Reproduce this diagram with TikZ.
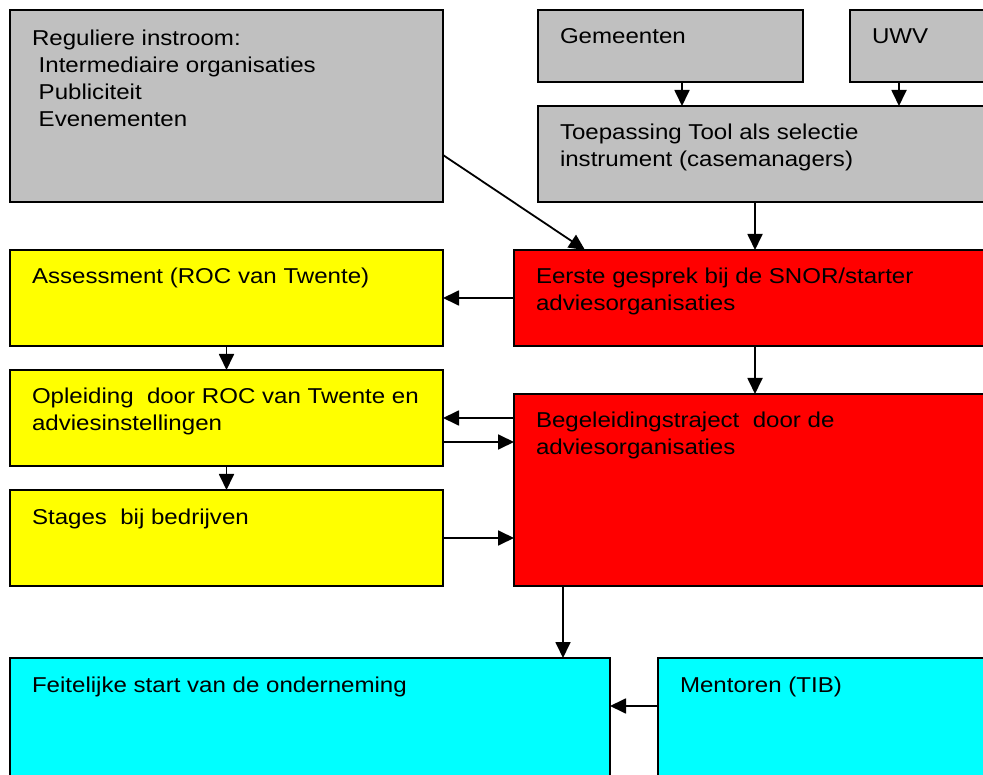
\documentclass[tikz,border=0pt]{standalone}
\usepackage{fontspec}
\setmainfont{Liberation Sans}[FakeStretch=1.12]
\usetikzlibrary{arrows.meta}
\definecolor{gbox}{HTML}{C0C0C0}
\definecolor{ybox}{HTML}{FFFF00}
\definecolor{rbox}{HTML}{FF0000}
\definecolor{cbox}{HTML}{00FFFF}
\newcommand{\fl}{\rule{0pt}{18pt}}
\begin{document}
\begin{tikzpicture}[x=1pt,y=-1pt,
  box/.style={draw=black,line width=1.8pt,rectangle,anchor=north west,inner sep=0pt,outer sep=0pt},
  txt/.style={anchor=north west,inner sep=0pt,outer sep=0pt,align=left,font=\fontsize{21.5}{27}\selectfont},
  arr/.style={line width=1.8pt,-{Triangle[length=16pt,width=15pt]}}]
\path[use as bounding box,fill=white] (0,0) rectangle (983,775);
\clip (0,0) rectangle (983,775);
% boxes
\node[box,fill=gbox,minimum width=433pt,minimum height=192pt] (reg) at (10,10) {};
\node[box,fill=gbox,minimum width=265pt,minimum height=72pt] (gem) at (538,10) {};
\node[box,fill=gbox,minimum width=160pt,minimum height=72pt] (uwv) at (850,10) {};
\node[box,fill=gbox,minimum width=470pt,minimum height=96pt] (tp) at (538,106) {};
\node[box,fill=ybox,minimum width=433pt,minimum height=96pt] (ass) at (10,250) {};
\node[box,fill=rbox,minimum width=490pt,minimum height=96pt] (eer) at (514,250) {};
\node[box,fill=ybox,minimum width=433pt,minimum height=96pt] (opl) at (10,370) {};
\node[box,fill=rbox,minimum width=490pt,minimum height=192pt] (beg) at (514,394) {};
\node[box,fill=ybox,minimum width=433pt,minimum height=96pt] (stg) at (10,490) {};
\node[box,fill=cbox,minimum width=600pt,minimum height=150pt] (fei) at (10,658) {};
\node[box,fill=cbox,minimum width=350pt,minimum height=150pt] (men) at (658,658) {};
% texts
\node[txt] (treg) at (32,28) {\fl Reguliere instroom:\\\ Intermediaire organisaties\\\ Publiciteit\\\ Evenementen};
\node[txt] (tgem) at (560,26) {\fl Gemeenten};
\node[txt] (tuwv) at (872,26) {\fl UWV};
\node[txt] (ttp) at (560,122) {\fl Toepassing Tool als selectie\\instrument (casemanagers)};
\node[txt] (tass) at (32,266) {\fl Assessment (ROC van Twente)};
\node[txt] (teer) at (536,266) {\fl Eerste gesprek bij de SNOR/starter\\adviesorganisaties};
\node[txt] (topl) at (32,386) {\fl Opleiding\ \ door ROC van Twente en\\adviesinstellingen};
\node[txt] (tbeg) at (536,410) {\fl Begeleidingstraject\ \ door de\\adviesorganisaties};
\node[txt] (tstg) at (32,506) {\fl Stages\ \ bij bedrijven};
\node[txt] (tfei) at (32,674) {\fl Feitelijke start van de onderneming};
\node[txt] (tmen) at (680,674) {\fl Mentoren (TIB)};
% connectors
\draw[arr] ([xshift=144pt]gem.south west) -- ([xshift=144pt]gem.south west |- tp.north);
\draw[arr] ([xshift=49pt]uwv.south west) -- ([xshift=49pt]uwv.south west |- tp.north);
\draw[arr] ([yshift=-49pt]reg.east) -- ([xshift=71pt]eer.north west);
\draw[arr] ([xshift=217pt]tp.south west) -- ([xshift=217pt]tp.south west |- eer.north);
\draw[arr] (eer.west) -- (eer.west -| ass.east);
\draw[arr] (ass.south) -- (opl.north);
\draw[arr] ([xshift=241pt]eer.south west) -- ([xshift=241pt]eer.south west |- beg.north);
\draw[arr] ([yshift=-24pt]beg.north west) -- ([yshift=-24pt]beg.north west -| opl.east);
\draw[arr] ([yshift=-24pt]opl.east) -- ([yshift=-24pt]opl.east -| beg.west);
\draw[arr] (opl.south) -- (stg.north);
\draw[arr] (stg.east) -- (stg.east -| beg.west);
\draw[arr] ([xshift=49pt]beg.south west) -- ([xshift=49pt]beg.south west |- fei.north);
\draw[arr] ([yshift=-48pt]men.north west) -- ([yshift=-48pt]men.north west -| fei.east);
\end{tikzpicture}
\end{document}
